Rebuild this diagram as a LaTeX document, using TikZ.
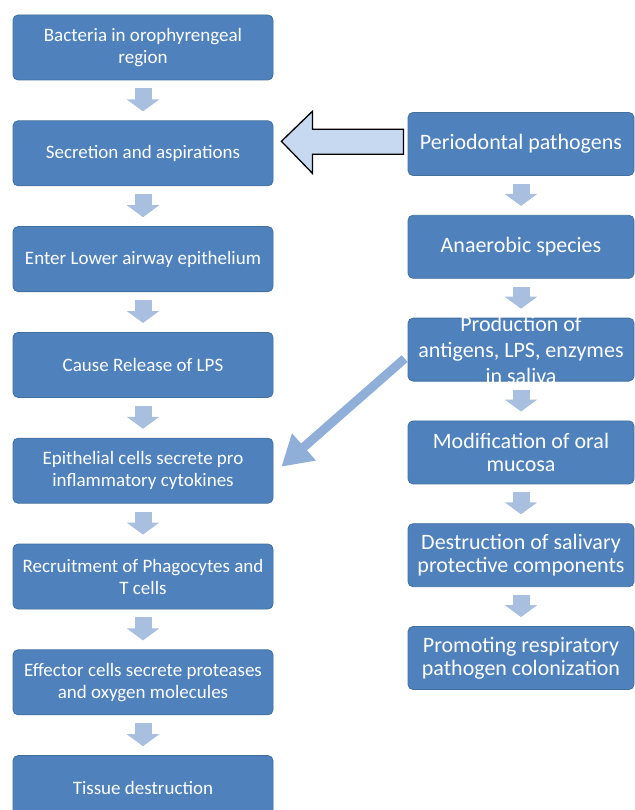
\documentclass[tikz,border=0pt]{standalone}
\usepackage{fontspec}
\setmainfont{Carlito}
\usepackage{xcolor}
\usetikzlibrary{arrows.meta, positioning}

\definecolor{boxblue}{HTML}{4F81BD}
\definecolor{boxedge}{HTML}{41709F}
\definecolor{steparrow}{HTML}{A9BFE0}
\definecolor{diagarrow}{HTML}{8FAED8}
\definecolor{hollowfill}{HTML}{C6D9F0}

\begin{document}
\begin{tikzpicture}[
  x=1pt, y=-1pt,
  node distance=40pt,
  box/.style={draw=boxedge, line width=0.8pt, fill=boxblue, rounded corners=5pt,
              text=white, align=center, inner sep=2pt},
  leftbox/.style={box, minimum width=260pt, minimum height=65pt,
                  font=\fontsize{19}{22}\selectfont},
  rightbox/.style={box, minimum width=226pt, minimum height=63pt,
                   font=\fontsize{22}{23}\selectfont},
  steparr/.style={draw=steparrow, line width=17pt,
                  -{Triangle[width=32pt, length=12pt]}},
  diagarr/.style={draw=diagarrow, line width=9pt,
                  -{Triangle[width=34pt, length=30pt]}},
  bigarr/.style={draw=black, line width=1.3pt, fill=hollowfill, line join=miter}
]
\useasboundingbox (0,0) rectangle (634,810);

% left column
\node[leftbox] (bacteria) at (143,47.5) {Bacteria in orophyrengeal\\region};
\node[leftbox, below=of bacteria] (secretion) {Secretion and aspirations};
\node[leftbox, below=of secretion] (airway) {Enter Lower airway epithelium};
\node[leftbox, below=of airway] (lps) {Cause Release of LPS};
\node[leftbox, below=of lps] (cytokines) {Epithelial cells secrete pro\\inflammatory cytokines};
\node[leftbox, below=of cytokines] (recruit) {Recruitment of Phagocytes and\\T cells};
\node[leftbox, below=of recruit] (effector) {Effector cells secrete proteases\\and oxygen molecules};
\node[leftbox, below=of effector] (tissue) {Tissue destruction};

% right column (text of production spills over its box)
\node[rightbox] (perio) at (521,144) {Periodontal pathogens};
\node[rightbox, below=39pt of perio] (anaerobic) {Anaerobic species};
\node[rightbox, below=39pt of anaerobic,
      label={[text=white, align=center, font=\fontsize{22}{26}\selectfont]center:Production of\\antigens, LPS, enzymes\\in saliva}] (production) {};
\node[rightbox, below=39pt of production] (mucosa) {Modification of oral\\mucosa};
\node[rightbox, below=39pt of mucosa] (salivary) {Destruction of salivary\\protective components};
\node[rightbox, below=39pt of salivary] (colonize) {Promoting respiratory\\pathogen colonization};

% step arrows
\foreach \a/\b in {bacteria/secretion, secretion/airway, airway/lps, lps/cytokines,
                   cytokines/recruit, recruit/effector, effector/tissue,
                   perio/anaerobic, anaerobic/production, production/mucosa,
                   mucosa/salivary, salivary/colonize}
  \draw[steparr] ([yshift=-8pt]\a.south) -- ([yshift=9pt]\b.north);

% hollow arrow into secretion
\coordinate (tip) at ([xshift=8pt, yshift=12pt]secretion.east);
\draw[bigarr] (tip) -- ++(31,-30) -- ++(0,18) -- ++(91,0) -- ++(0,25)
  -- ++(-91,0) -- ++(0,19) -- cycle;

% diagonal arrow
\draw[diagarr] ([xshift=-3pt, yshift=-9pt]production.west) -- ([xshift=8pt, yshift=4pt]cytokines.east);
\end{tikzpicture}
\end{document}
